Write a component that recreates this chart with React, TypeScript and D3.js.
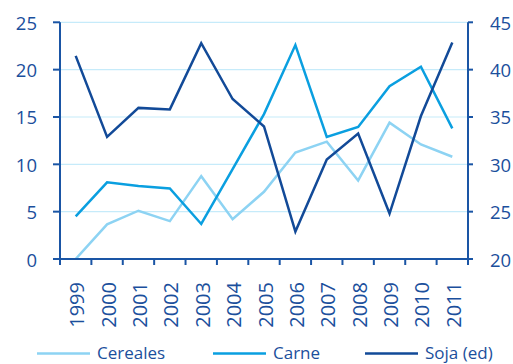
import React from "react";
import * as d3 from "d3";

const years = ["1999","2000","2001","2002","2003","2004","2005","2006","2007","2008","2009","2010","2011"];
const cereales = [0, 3.66, 5.1, 4.0, 8.75, 4.2, 7.1, 11.25, 12.4, 8.3, 14.4, 12.1, 10.8];
const carne = [4.5, 8.1, 7.7, 7.45, 3.7, 9.5, 15.3, 22.6, 12.9, 13.95, 18.25, 20.3, 13.8];
const soja = [41.45, 32.9, 35.96, 35.8, 42.8, 36.9, 34.0, 22.9, 30.5, 33.26, 24.8, 35.1, 42.86];
const leftTicks = [0, 5, 10, 15, 20, 25];
const rightTicks = [20, 25, 30, 35, 40, 45];
const legendItems = ["Cereales", "Carne", "Soja (ed)"];

const C_CER = "#8dd3f3";
const C_CAR = "#0a9fe0";
const C_SOJ = "#124a98";
const AXIS = "#1a55a5";
const TEXT = "#1b4f9c";
const GRID = "#c6ebfa";
const FONT = "'Open Sans', sans-serif";

export default function App() {
  const W = 513, H = 364;
  const x0 = 60, x1 = 468, yTop = 22.3, yBot = 259;
  const x = d3.scaleBand<string>().domain(years).range([x0, x1]);
  const yL = d3.scaleLinear().domain([0, 25]).range([yBot, yTop]);
  const yR = d3.scaleLinear().domain([20, 45]).range([yBot, yTop]);
  const cx = (d: string) => (x(d) as number) + x.bandwidth() / 2;

  const lineL = d3.line<number>().x((_, i) => cx(years[i])).y((v) => yL(v));
  const lineR = d3.line<number>().x((_, i) => cx(years[i])).y((v) => yR(v));

  const legendX = [37, 213, 365];
  const legendColors = [C_CER, C_CAR, C_SOJ];

  return (
    <svg width={W} height={H} style={{ position: "absolute", left: 0, top: 0 }} fontFamily={FONT}>
      {leftTicks.slice(1).map((t) => (
        <line key={t} x1={x0} x2={x1} y1={yL(t)} y2={yL(t)} stroke={GRID} strokeWidth={1.2} />
      ))}
      <path d={lineL(cereales) || ""} fill="none" stroke={C_CER} strokeWidth={2.5} />
      <path d={lineL(carne) || ""} fill="none" stroke={C_CAR} strokeWidth={2.5} />
      <path d={lineR(soja) || ""} fill="none" stroke={C_SOJ} strokeWidth={2.5} />
      {/* axes */}
      <line x1={x0} x2={x0} y1={yTop} y2={yBot} stroke={AXIS} strokeWidth={2} />
      <line x1={x1} x2={x1} y1={yTop} y2={yBot} stroke={AXIS} strokeWidth={2} />
      <line x1={x0 - 7} x2={x1 + 5} y1={yBot} y2={yBot} stroke={AXIS} strokeWidth={2} />
      {leftTicks.map((t) => (
        <g key={"l" + t}>
          <line x1={x0 - 7} x2={x0} y1={yL(t)} y2={yL(t)} stroke={AXIS} strokeWidth={2} />
          <text x={37} y={yL(t)} textAnchor="end" dominantBaseline="central" fontSize={18.5} fill={TEXT}>{t}</text>
        </g>
      ))}
      {rightTicks.map((t) => (
        <g key={"r" + t}>
          <line x1={x1} x2={x1 + 5} y1={yR(t)} y2={yR(t)} stroke={AXIS} strokeWidth={2} />
          <text x={490} y={yR(t)} textAnchor="start" dominantBaseline="central" fontSize={18.5} fill={TEXT}>{t}</text>
        </g>
      ))}
      {x.domain().concat(["end"]).map((d, i) => {
        const px = x0 + i * x.bandwidth();
        return <line key={"t" + i} x1={px} x2={px} y1={yBot} y2={yBot + 6} stroke={AXIS} strokeWidth={2} />;
      })}
      {years.map((d) => (
        <text key={"y" + d} transform={`translate(${cx(d) + 1},282) rotate(-90)`} textAnchor="end" dominantBaseline="central" fontSize={20} fill={TEXT}>{d}</text>
      ))}
      {legendItems.map((s, i) => (
        <g key={s}>
          <line x1={legendX[i]} x2={legendX[i] + 53} y1={353.5} y2={353.5} stroke={legendColors[i]} strokeWidth={2.5} />
          <text x={legendX[i] + 60} y={358.5} fontSize={17} fill={TEXT}>{s}</text>
        </g>
      ))}
    </svg>
  );
}
